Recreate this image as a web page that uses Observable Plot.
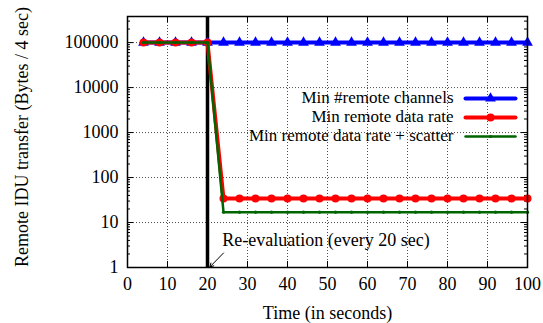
<!DOCTYPE html>
<html><head><meta charset="utf-8">
<script src="https://cdn.jsdelivr.net/npm/d3@7"></script>
<script src="https://cdn.jsdelivr.net/npm/@observablehq/plot@0.6"></script>
<style>
body{margin:0;background:#fff}
svg, svg text, svg g {font-family:"Liberation Serif","Times New Roman","DejaVu Serif",serif !important}
</style>
</head><body><div id="chart"></div>
<script>
const times = [4,8,12,16,20,24,28,32,36,40,44,48,52,56,60,64,68,72,76,80,84,88,92,96,100];
const minChannels = [100000,100000,100000,100000,100000,100000,100000,100000,100000,100000,100000,100000,100000,100000,100000,100000,100000,100000,100000,100000,100000,100000,100000,100000,100000];
const minRate = [100000,100000,100000,100000,100000,34,34,34,34,34,34,34,34,34,34,34,34,34,34,34,34,34,34,34,34];
const minRateScatter = [100000,100000,100000,100000,100000,17,17,17,17,17,17,17,17,17,17,17,17,17,17,17,17,17,17,17,17];
const xTicks = [0,10,20,30,40,50,60,70,80,90,100];
const yTicks = [1,10,100,1000,10000,100000];
const yMinor = [2,3,4,5,6,7,8,9,20,30,40,50,60,70,80,90,200,300,400,500,600,700,800,900,2000,3000,4000,5000,6000,7000,8000,9000,20000,30000,40000,50000,60000,70000,80000,90000,200000,300000];
const reevalTime = 20;
const seriesNames = ["Min #remote channels","Min remote data rate","Min remote data rate + scatter"];
const seriesColors = ["#0000ff","#ff0000","#006400"];

const FS = 18;
const LFS = 17;
const toRows = (vals) => times.map((t,i)=>({t, v: vals[i]}));
const blue = toRows(minChannels), red = toRows(minRate), green = toRows(minRateScatter);

const lineShape = {draw(ctx, l){ ctx.moveTo(0,0); ctx.lineTo(0,-l); }};
const legendRows = [
  {name: seriesNames[0], color: seriesColors[0], dy: 82, sw: 4, symbol: "triangle", r: 4},
  {name: seriesNames[1], color: seriesColors[1], dy: 101, sw: 4, symbol: "circle", r: 4},
  {name: seriesNames[2], color: seriesColors[2], dy: 120, sw: 2.5, symbol: "circle", r: 1.6}
];
const legendMarks = legendRows.flatMap(row => [
  Plot.text([row.name], {frameAnchor: "top-right", text: d=>d, dx: -74, dy: row.dy - 1, textAnchor: "end", lineAnchor: "middle", fontSize: LFS, fill: "black"}),
  Plot.vector([0], {frameAnchor: "top-right", dx: -62, dy: row.dy, length: 50, rotate: 90, anchor: "start", shape: lineShape, stroke: row.color, strokeWidth: row.sw}),
  Plot.dot([0], {frameAnchor: "top-right", dx: -37, dy: row.dy, symbol: row.symbol, r: row.r, fill: row.color, stroke: "none"})
]);

const chart = Plot.plot({
  width: 543, height: 323,
  marginLeft: 127, marginRight: 16, marginTop: 16, marginBottom: 56,
  style: {fontFamily: "'Liberation Serif', serif", fontSize: FS + "px", color: "black", background: "white"},
  x: {domain: [0,100]},
  y: {type: "log", domain: [1, 380000]},
  marks: [
    Plot.gridX(xTicks, {stroke: "black", strokeOpacity: 0.7, strokeDasharray: "1,2"}),
    Plot.gridY(yTicks, {stroke: "black", strokeOpacity: 0.7, strokeDasharray: "1,2"}),
    Plot.axisX({ticks: xTicks, tickSize: 0, tickPadding: 10, label: null, fontSize: FS}),
    Plot.axisY({ticks: yTicks, tickSize: 0, tickPadding: 9, tickFormat: d3.format("d"), label: null, fontSize: FS}),
    Plot.tickY(yTicks, {y: d=>d, insetRight: 394, stroke: "black"}),
    Plot.tickY(yTicks, {y: d=>d, insetLeft: 394, stroke: "black"}),
    Plot.tickY(yMinor, {y: d=>d, insetRight: 397, stroke: "black"}),
    Plot.tickY(yMinor, {y: d=>d, insetLeft: 397, stroke: "black"}),
    Plot.tickX(xTicks, {x: d=>d, insetTop: 245, stroke: "black"}),
    Plot.tickX(xTicks, {x: d=>d, insetBottom: 245, stroke: "black"}),
    Plot.text(["Remote IDU transfer (Bytes / 4 sec)"], {frameAnchor: "left", textAnchor: "middle", lineAnchor: "middle", text: d=>d, rotate: -90, dx: -105, dy: -5, fontSize: FS}),
    Plot.text(["Time (in seconds)"], {frameAnchor: "bottom", lineAnchor: "middle", text: d=>d, dy: 46, fontSize: FS}),
    Plot.ruleX([reevalTime], {stroke: "black", strokeWidth: 3.5}),
    Plot.line(blue, {x: "t", y: "v", stroke: seriesColors[0], strokeWidth: 4}),
    Plot.dot(blue, {x: "t", y: "v", symbol: "triangle", r: 4, fill: seriesColors[0], stroke: "none"}),
    Plot.line(red, {x: "t", y: "v", stroke: seriesColors[1], strokeWidth: 4}),
    Plot.dot(red, {x: "t", y: "v", symbol: "circle", r: 4, fill: seriesColors[1], stroke: "none"}),
    Plot.line(green, {x: "t", y: "v", stroke: seriesColors[2], strokeWidth: 2.5}),
    Plot.dot(green, {x: "t", y: "v", symbol: "circle", r: 1.6, fill: seriesColors[2], stroke: "none"}),
    Plot.text(["Re-evaluation (every 20 sec)"], {x: 23.7, y: 4, text: d=>d, textAnchor: "start", fontSize: FS}),
    Plot.arrow([0], {x1: 24, y1: 2.1, x2: 20.6, y2: 1.03, stroke: "black", strokeWidth: 1, headLength: 6}),
    ...legendMarks,
    Plot.frame({stroke: "black", strokeWidth: 1.5})
  ]
});
chart.setAttribute("font-family", "Liberation Serif, serif");
document.getElementById("chart").append(chart);
</script>
</body></html>
